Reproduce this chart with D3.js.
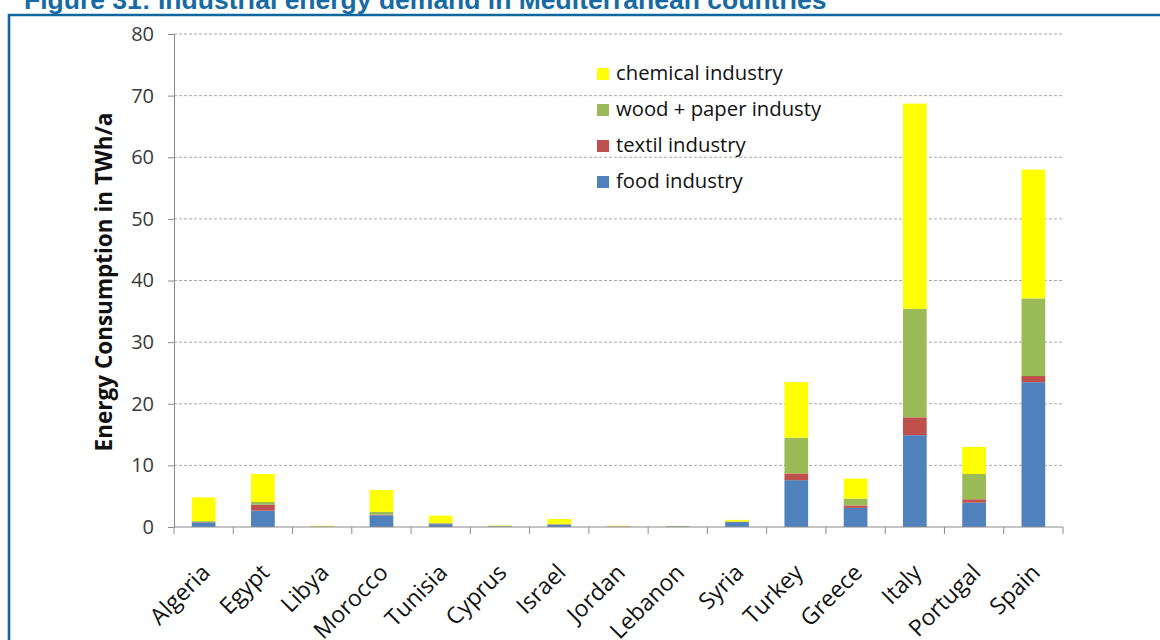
<!DOCTYPE html>
<html>
<head>
<meta charset="utf-8">
<script src="https://cdn.jsdelivr.net/npm/d3@7/dist/d3.min.js"></script>
<style>
  html, body { margin: 0; padding: 0; background: #fff; }
  svg { display: block; }
</style>
</head>
<body>
<svg id="chart" width="1160" height="640"></svg>
<script>
// Industrial energy demand per country, TWh/a, stacked by industry sector
const countries = ["Algeria", "Egypt", "Libya", "Morocco", "Tunisia", "Cyprus", "Israel",
  "Jordan", "Lebanon", "Syria", "Turkey", "Greece", "Italy", "Portugal", "Spain"];
const food     = [0.75, 2.65, 0.05, 1.9, 0.45, 0.1, 0.35, 0.05, 0.1, 0.8, 7.6, 3.1, 14.9, 3.95, 23.5];
const textil   = [0.05, 0.95, 0.0, 0.1, 0.1, 0.0, 0.05, 0.05, 0.0, 0.05, 1.1, 0.4, 2.9, 0.55, 1.0];
const wood     = [0.15, 0.45, 0.05, 0.45, 0.1, 0.1, 0.1, 0.0, 0.05, 0.05, 5.8, 1.1, 17.6, 4.1, 12.6];
const chemical = [3.85, 4.55, 0.1, 3.55, 1.2, 0.05, 0.8, 0.1, 0.02, 0.25, 9.0, 3.25, 33.3, 4.4, 20.9];

const seriesNames  = ["food industry", "textil industry", "wood + paper industy", "chemical industry"];
const seriesColors = ["#4f81bd", "#c0504d", "#9bbb59", "#ffff00"];
const yTicks = [0, 10, 20, 30, 40, 50, 60, 70, 80];

const svg = d3.select("#chart");
const W = 1160, H = 640;
const plot = { left: 174, right: 1063, top: 34, bottom: 527 };

// Page frame and figure caption
svg.append("path")
  .attr("d", `M9,${H} V15 H${W}`)
  .attr("fill", "none")
  .attr("stroke", "#0f679f")
  .attr("stroke-width", 2.6);

svg.append("text")
  .attr("x", 24).attr("y", 9)
  .attr("font-family", "Liberation Sans, Arial, sans-serif")
  .attr("font-weight", "bold")
  .attr("font-size", 26.5)
  .attr("fill", "#176aa3")
  .text("Figure 31: Industrial energy demand in Mediterranean countries");

// Scales
const x = d3.scaleBand().domain(countries).range([plot.left, plot.right]).padding(0);
const y = d3.scaleLinear().domain([0, 80]).range([plot.bottom, plot.top]);
const barW = x.bandwidth() * 0.4;

// Horizontal dashed gridlines
svg.append("g")
  .selectAll("line")
  .data(yTicks.filter(d => d > 0))
  .join("line")
  .attr("x1", plot.left).attr("x2", plot.right)
  .attr("y1", d => y(d)).attr("y2", d => y(d))
  .attr("stroke", "#a8a8a8")
  .attr("stroke-width", 1)
  .attr("stroke-dasharray", "3,2");

// Stacked bars
const rows = countries.map((c, i) => ({
  country: c,
  "food industry": food[i],
  "textil industry": textil[i],
  "wood + paper industy": wood[i],
  "chemical industry": chemical[i]
}));
const stacked = d3.stack().keys(seriesNames)(rows);

svg.append("g")
  .selectAll("g")
  .data(stacked)
  .join("g")
  .attr("fill", (d, i) => seriesColors[i])
  .selectAll("rect")
  .data(d => d)
  .join("rect")
  .attr("x", d => x(d.data.country) + (x.bandwidth() - barW) / 2)
  .attr("width", barW)
  .attr("y", d => y(d[1]))
  .attr("height", d => Math.max(0, y(d[0]) - y(d[1])));

// Y axis
const yAxis = d3.axisLeft(y).tickValues(yTicks).tickSize(6).tickPadding(14);
const gy = svg.append("g")
  .attr("transform", `translate(${plot.left},0)`)
  .call(yAxis);
gy.select(".domain").attr("stroke", "#8a8a8a");
gy.selectAll(".tick line").attr("stroke", "#8a8a8a");
gy.selectAll(".tick text")
  .attr("font-family", "Open Sans, sans-serif")
  .attr("font-size", 20)
  .attr("fill", "#3a3a3a");

// X axis: ticks on category boundaries
const gx = svg.append("g")
  .attr("transform", `translate(0,${plot.bottom})`);
gx.append("line")
  .attr("x1", plot.left).attr("x2", plot.right)
  .attr("stroke", "#8a8a8a");
gx.selectAll("line.tick")
  .data(countries.concat(["__end"]))
  .join("line")
  .attr("class", "tick")
  .attr("x1", (d, i) => i < countries.length ? x(d) : plot.right)
  .attr("x2", (d, i) => i < countries.length ? x(d) : plot.right)
  .attr("y1", 0).attr("y2", 7)
  .attr("stroke", "#8a8a8a");

gx.selectAll("text")
  .data(countries)
  .join("text")
  .attr("transform", d => `translate(${x(d) + x.bandwidth() / 2 + 8},47) rotate(-45)`)
  .attr("text-anchor", "end")
  .attr("font-family", "Open Sans, sans-serif")
  .attr("font-size", 23)
  .attr("fill", "#111")
  .text(d => d);

// Y axis title
svg.append("text")
  .attr("transform", `translate(112,282) rotate(-90)`)
  .attr("text-anchor", "middle")
  .attr("font-family", "Open Sans, sans-serif")
  .attr("font-weight", "bold")
  .attr("font-size", 22.5)
  .attr("fill", "#111")
  .text("Energy Consumption in TWh/a");

// Legend (top entry is the top of the stack)
const legendItems = seriesNames.map((n, i) => ({ name: n, color: seriesColors[i] })).reverse();
const lg = svg.append("g")
  .selectAll("g")
  .data(legendItems)
  .join("g")
  .attr("transform", (d, i) => `translate(597,${68 + i * 36})`);
lg.append("rect")
  .attr("width", 12).attr("height", 12)
  .attr("fill", d => d.color);
lg.append("text")
  .attr("x", 19).attr("y", 12)
  .attr("font-family", "Open Sans, sans-serif")
  .attr("font-size", 20.3)
  .attr("fill", "#111")
  .text(d => d.name);
</script>
</body>
</html>
